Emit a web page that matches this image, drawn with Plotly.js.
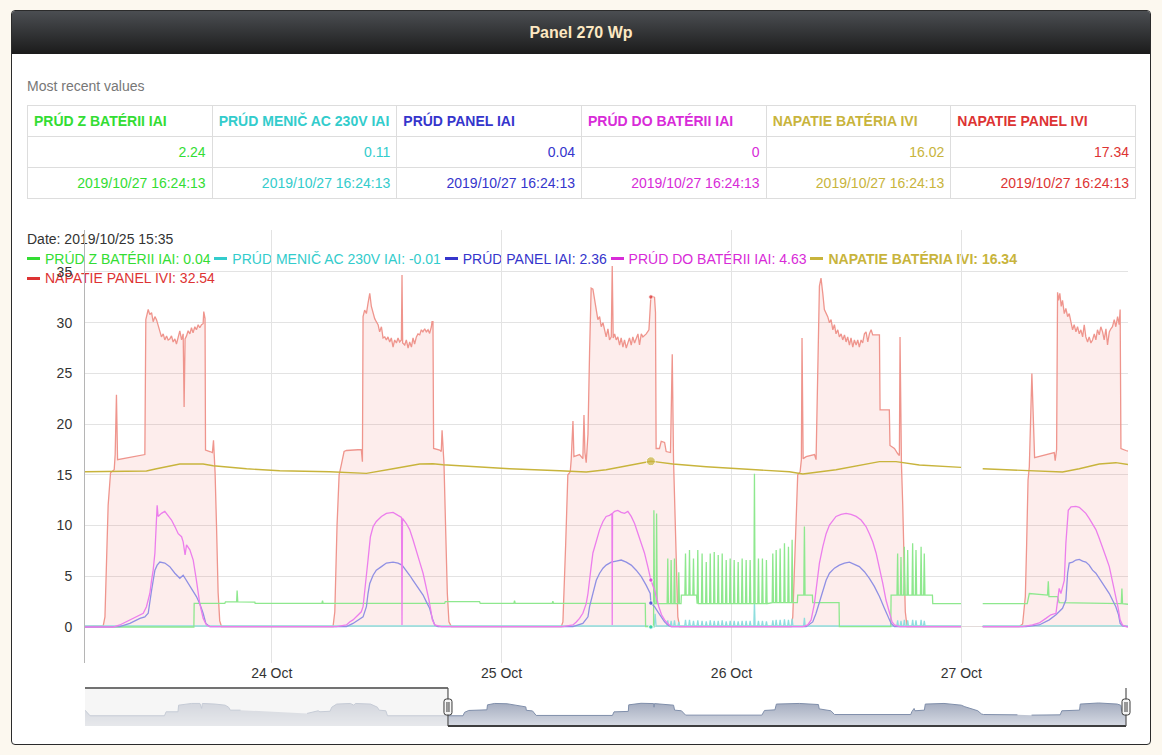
<!DOCTYPE html>
<html><head><meta charset="utf-8">
<script src="https://cdn.plot.ly/plotly-3.0.1.min.js"></script>
<style>
html,body{margin:0;padding:0;}
body{width:1162px;height:755px;background:#fcf8ef;position:relative;overflow:hidden;font-family:'Liberation Sans',Arial,Helvetica,sans-serif;}
#panel{position:absolute;left:11px;top:10px;width:1138px;height:733px;border:1px solid #2b2b2b;border-radius:4px;background:#fff;overflow:hidden;}
#hdr{height:43px;line-height:43px;background:linear-gradient(#4b4e52,#1b1b1b);color:#fde8c2;font-weight:bold;font-size:16px;text-align:center;}
#recent{position:absolute;left:27px;top:78px;font-size:14px;color:#777;}
#tbl{position:absolute;left:27px;top:105px;width:1109px;border-collapse:collapse;table-layout:fixed;font-size:14px;}
#tbl td{border:1px solid #dddddd;height:31px;padding:0 6px;box-sizing:border-box;white-space:nowrap;overflow:hidden;}
#tbl tr.h td{font-weight:bold;text-align:left;}
#tbl tr.v td{text-align:right;}
#legend{position:absolute;left:27px;top:230px;font-size:14px;line-height:19.5px;color:#333;z-index:1;pointer-events:none;white-space:nowrap;}
#legend .dash{display:inline-block;width:13px;height:0;border-top:3px solid;vertical-align:middle;margin-right:5px;position:relative;top:-1px;}
#chart{position:absolute;left:0;top:220px;width:1162px;height:520px;z-index:2;}
</style></head>
<body>
<div id="panel"><div id="hdr">Panel 270 Wp</div></div>
<div id="recent">Most recent values</div>
<table id="tbl"><tbody>
<tr class="h" id="rowH"></tr><tr class="v" id="rowV"></tr><tr class="v" id="rowT"></tr>
</tbody></table>
<div id="legend"></div>
<div id="chart"></div>
<script>
// ---------------- DATA ----------------
const seriesNames = ['PRÚD Z BATÉRII IAI','PRÚD MENIČ AC 230V IAI','PRÚD PANEL IAI','PRÚD DO BATÉRII IAI','NAPATIE BATÉRIA IVI','NAPATIE PANEL IVI'];
const latestValues = ['2.24','0.11','0.04','0','16.02','17.34'];
const latestTime = '2019/10/27 16:24:13';
const highlightLabel = '2019/10/25 15:35';
const highlightTime = '25 15:35';
const highlightValues = [0.04, -0.01, 2.36, 4.63, 16.34, 32.54];
const highlightIndex = 4;
const xTickFormat = '%d %b';

// times are 'DD HH:MM' local time, October 2019
const batDischarge = [ // PRÚD Z BATÉRII IAI
['23 04:30',0],['23 15:52',0],['23 15:54',2.33],['23 19:06',2.33],['23 19:10',2.48],['23 20:20',2.48],['23 20:23',3.6],['23 20:27',2.48],['23 22:14',2.45],['23 22:16',2.33],
['24 05:14',2.33],['24 05:18',2.6],['24 05:22',2.33],['24 18:03',2.33],['24 18:07',2.5],['24 21:42',2.5],['24 21:46',2.33],
['25 01:17',2.33],['25 01:21',2.6],['25 01:25',2.33],['25 05:17',2.33],['25 05:21',2.55],['25 05:25',2.33],['25 15:00',2.33],['25 15:02',0.04],['25 15:35',0.04],['25 15:52',0.04],
['25 15:54',11.5],['25 15:58',2.3],['25 16:08',2.3],['25 16:11',11.2],['25 16:15',2.3],
['25 17:17',2.3],['25 17:21',6.75],['25 17:25',2.3],['25 17:38',2.3],['25 17:42',6.6],['25 17:46',2.3],['25 17:59',2.3],['25 18:03',6.75],['25 18:07',2.3],
['25 18:26',2.3],['25 18:30',5.4],['25 18:34',2.3],['25 18:44',2.3],['25 18:46',3.15],
['25 19:08',3.15],['25 19:12',7.25],['25 19:16',3.15],['25 19:33',3.15],['25 19:37',7.6],['25 19:41',3.15],['25 19:58',3.15],['25 20:02',6.75],['25 20:06',3.15],['25 20:21',3.15],['25 20:23',2.3],
['25 20:25',2.3],['25 20:29',7.6],['25 20:33',2.3],['25 20:52',2.3],['25 20:56',7.25],['25 21:00',2.3],['25 21:18',2.3],['25 21:22',6.4],['25 21:26',2.3],
['25 21:43',2.3],['25 21:47',7.25],['25 21:51',2.3],['25 22:08',2.3],['25 22:12',7.4],['25 22:16',2.3],['25 22:33',2.3],['25 22:37',7.1],['25 22:41',2.3],
['25 22:58',2.3],['25 23:02',7.25],['25 23:06',2.3],['25 23:23',2.3],['25 23:27',6.6],['25 23:31',2.3],['25 23:48',2.3],['25 23:52',6.75],['25 23:56',2.3],
['26 00:13',2.3],['26 00:17',6.6],['26 00:21',2.3],['26 00:38',2.3],['26 00:42',6.4],['26 00:46',2.3],['26 01:03',2.3],['26 01:07',6.75],['26 01:11',2.3],
['26 01:28',2.3],['26 01:32',6.6],['26 01:36',2.3],['26 01:53',2.3],['26 01:57',6.6],['26 02:01',2.3],['26 02:20',2.3],['26 02:24',15.1],['26 02:28',2.3],
['26 02:45',2.3],['26 02:49',6.75],['26 02:53',2.3],['26 03:10',2.3],['26 03:14',6.75],['26 03:18',2.3],['26 03:35',2.3],['26 03:39',6.6],['26 03:43',2.3],
['26 04:15',2.4],['26 04:19',7.25],['26 04:23',2.4],['26 04:36',2.4],['26 04:40',7.6],['26 04:44',2.4],['26 05:01',2.4],['26 05:05',7.75],['26 05:09',2.4],
['26 05:28',2.4],['26 05:32',8.25],['26 05:36',2.4],['26 05:53',2.4],['26 05:57',7.9],['26 06:01',2.4],['26 06:16',2.4],['26 06:20',8.6],['26 06:24',2.4],
['26 06:53',2.4],['26 06:55',3.15],['26 07:33',3.15],['26 07:37',9.9],['26 07:41',3.15],['26 08:27',3.15],['26 08:29',2.4],['26 11:14',2.4],['26 11:16',0.03],
['26 16:38',0.03],['26 16:40',3.15],
['26 17:17',3.15],['26 17:21',7.25],['26 17:25',3.15],['26 17:38',3.15],['26 17:42',6.9],['26 17:46',3.15],['26 17:59',3.15],['26 18:03',7.9],['26 18:07',3.15],
['26 18:20',3.15],['26 18:24',7.6],['26 18:28',3.15],['26 18:51',3.15],['26 18:55',8.25],['26 18:59',3.15],['26 19:12',3.15],['26 19:16',7.6],['26 19:20',3.15],
['26 19:44',3.15],['26 19:48',7.9],['26 19:52',3.15],['26 20:04',3.15],['26 20:08',7.25],['26 20:12',3.15],['26 20:59',3.15],['26 21:01',2.3],['26 23:58',2.3],
['27 01:00',null],['27 02:14',2.3],['27 05:53',2.3],['27 06:06',3.3],['27 08:00',3.15],['27 08:05',4.5],['27 08:09',3.0],['27 09:03',3.0],['27 09:13',2.4],
['27 15:42',2.3],['27 15:46',3.8],['27 15:50',2.3],['27 16:24',2.24]
];

const inverterCur = [ // PRÚD MENIČ AC 230V IAI
['23 04:30',0.1],['25 15:20',0.1],['25 15:35',-0.01],['25 15:56',0.0],['25 16:02',1.3],['25 16:08',0.1],
['25 17:16',0.1],['25 17:21',0.65],['25 17:26',0.1],['25 17:37',0.1],['25 17:42',0.6],['25 17:47',0.1],['25 17:58',0.1],['25 18:03',0.65],['25 18:08',0.1],
['25 18:25',0.1],['25 18:30',0.5],['25 18:35',0.1],['25 19:07',0.1],['25 19:12',0.7],['25 19:17',0.1],['25 19:32',0.1],['25 19:37',0.7],['25 19:42',0.1],
['25 19:57',0.1],['25 20:02',0.6],['25 20:07',0.1],['25 20:24',0.1],['25 20:29',0.65],['25 20:34',0.1],['25 20:51',0.1],['25 20:56',0.6],['25 21:01',0.1],
['25 21:17',0.1],['25 21:22',0.55],['25 21:27',0.1],['25 21:42',0.1],['25 21:47',0.65],['25 21:52',0.1],['25 22:07',0.1],['25 22:12',0.6],['25 22:17',0.1],
['25 22:32',0.1],['25 22:37',0.6],['25 22:42',0.1],['25 22:57',0.1],['25 23:02',0.65],['25 23:07',0.1],['25 23:22',0.1],['25 23:27',0.55],['25 23:32',0.1],
['25 23:47',0.1],['25 23:52',0.6],['25 23:57',0.1],['26 00:12',0.1],['26 00:17',0.6],['26 00:22',0.1],['26 00:37',0.1],['26 00:42',0.55],['26 00:47',0.1],
['26 01:02',0.1],['26 01:07',0.6],['26 01:12',0.1],['26 01:27',0.1],['26 01:32',0.6],['26 01:37',0.1],['26 01:52',0.1],['26 01:57',0.6],['26 02:02',0.1],
['26 02:20',0.1],['26 02:24',2.6],['26 02:28',0.1],['26 02:44',0.1],['26 02:49',0.6],['26 02:54',0.1],['26 03:09',0.1],['26 03:14',0.6],['26 03:19',0.1],
['26 03:34',0.1],['26 03:39',0.55],['26 03:44',0.1],['26 04:14',0.1],['26 04:19',0.65],['26 04:24',0.1],['26 04:35',0.1],['26 04:40',0.7],['26 04:45',0.1],
['26 05:00',0.1],['26 05:05',0.7],['26 05:10',0.1],['26 05:27',0.1],['26 05:32',0.75],['26 05:37',0.1],['26 05:52',0.1],['26 05:57',0.7],['26 06:02',0.1],
['26 06:15',0.1],['26 06:20',0.8],['26 06:25',0.1],['26 07:32',0.1],['26 07:37',0.9],['26 07:42',0.1],
['26 17:16',0.1],['26 17:21',0.65],['26 17:26',0.1],['26 17:37',0.1],['26 17:42',0.6],['26 17:47',0.1],['26 17:58',0.1],['26 18:03',0.7],['26 18:08',0.1],
['26 18:19',0.1],['26 18:24',0.65],['26 18:29',0.1],['26 18:50',0.1],['26 18:55',0.7],['26 19:00',0.1],['26 19:11',0.1],['26 19:16',0.65],['26 19:21',0.1],
['26 19:43',0.1],['26 19:48',0.7],['26 19:53',0.1],['26 20:03',0.1],['26 20:08',0.6],['26 20:13',0.1],['26 23:58',0.1],
['27 01:00',null],['27 02:14',0.1],['27 16:24',0.11]
];

const panelCur = [ // PRÚD PANEL IAI
['23 04:30',0],['23 08:08',0.03],['23 09:11',0.35],['23 10:14',0.85],['23 10:45',1.0],['23 11:06',1.35],['23 11:27',3.6],['23 11:37',4.6],['23 11:48',5.6],['23 12:02',6.1],
['23 12:19',6.4],['23 12:50',6.3],['23 13:21',5.95],['23 13:53',5.3],['23 14:24',4.8],['23 14:45',5.1],['23 15:06',4.6],['23 15:37',3.8],['23 16:08',3.0],['23 16:29',2.3],
['23 16:50',1.35],['23 17:07',0.35],['23 17:32',0.03],
['24 07:48',0.03],['24 08:29',0.35],['24 09:32',1.0],['24 09:53',2.0],['24 10:03',3.3],['24 10:14',4.3],['24 10:35',5.1],['24 10:55',5.6],['24 11:27',5.95],['24 11:58',6.3],
['24 12:40',6.4],['24 13:11',6.3],['24 13:36',6.1],['24 14:03',5.6],['24 14:24',5.1],['24 14:45',4.6],['24 15:06',4.1],['24 15:27',3.6],['24 15:48',3.15],['24 16:08',2.5],
['24 16:29',1.84],['24 16:46',0.85],['24 17:01',0.2],['24 17:21',0.03],
['25 07:27',0.03],['25 08:29',0.35],['25 09:01',1.0],['25 09:11',2.0],['25 09:32',3.3],['25 09:53',4.6],['25 10:14',5.3],['25 10:35',5.8],['25 10:55',6.1],['25 11:27',6.4],
['25 11:58',6.5],['25 12:29',6.6],['25 13:01',6.4],['25 13:32',6.1],['25 14:03',5.6],['25 14:35',4.96],['25 15:06',4.1],['25 15:31',3.3],['25 15:35',2.36],['25 15:58',2.0],
['25 16:19',1.5],['25 16:40',1.0],['25 17:01',0.5],['25 17:21',0.2],['25 17:42',0.03],
['26 07:48',0.03],['26 08:29',0.5],['26 08:50',1.35],['26 09:11',2.5],['26 09:32',3.65],['26 09:53',4.6],['26 10:14',5.3],['26 10:45',5.8],['26 11:16',6.1],['26 11:48',6.3],
['26 12:19',6.4],['26 12:50',6.2],['26 13:21',5.95],['26 13:53',5.45],['26 14:24',4.8],['26 14:55',4.0],['26 15:27',3.0],['26 15:58',1.84],['26 16:19',1.0],['26 16:40',0.35],
['26 17:01',0.03],['26 23:58',0.03],['27 01:00',null],['27 02:14',0.03],
['27 05:45',0.03],['27 07:08',0.2],['27 08:11',0.7],['27 08:53',1.2],['27 09:34',1.84],['27 09:55',2.66],['27 10:06',5.3],['27 10:16',6.3],['27 10:37',6.4],['27 10:58',6.6],
['27 11:19',6.67],['27 11:40',6.5],['27 12:00',6.4],['27 12:21',6.1],['27 12:42',5.6],['27 13:03',5.3],['27 13:24',4.8],['27 13:45',4.3],['27 14:06',3.8],['27 14:27',3.3],
['27 14:47',2.66],['27 15:08',2.0],['27 15:25',1.2],['27 15:35',0.35],['27 15:50',0.1],['27 16:24',0.04]
];

const batCharge = [ // PRÚD DO BATÉRII IAI
['23 04:30',0],['23 07:30',0],['23 08:08',0.2],['23 09:11',0.7],['23 09:53',1.0],['23 10:35',1.35],['23 10:55',2.0],['23 11:06',2.7],['23 11:16',3.3],['23 11:27',4.6],
['23 11:37',5.6],['23 11:48',7.3],['23 11:58',11.0],['23 12:02',12.0],['23 12:08',10.9],['23 12:29',11.2],['23 12:50',11.4],['23 13:11',11.0],['23 13:32',10.55],['23 13:53',9.9],
['23 14:14',9.2],['23 14:35',8.9],['23 14:45',8.4],['23 14:57',7.1],['23 15:06',8.1],['23 15:27',7.6],['23 15:48',6.6],['23 16:08',4.6],['23 16:29',2.3],['23 16:50',0.85],
['23 17:11',0.2],['23 17:32',0.03],
['24 06:45',0.03],['24 07:48',0.2],['24 08:08',0.5],['24 08:29',0.7],['24 09:01',1.2],['24 09:21',1.5],['24 09:32',2.0],['24 09:42',3.3],['24 09:53',4.96],['24 10:03',6.6],
['24 10:18',8.9],['24 10:35',9.9],['24 10:55',10.4],['24 11:27',10.9],['24 11:58',11.2],['24 12:40',11.3],['24 13:11',11.0],['24 13:33',10.8],['24 13:36',0.2],['24 13:39',10.7],
['24 14:03',10.2],['24 14:24',9.6],['24 14:45',8.6],['24 15:06',7.6],['24 15:27',6.4],['24 15:48',5.3],['24 16:08',4.0],['24 16:25',2.66],['24 16:36',1.7],['24 16:46',0.7],
['24 17:01',0.2],['24 17:42',0.03],
['25 06:24',0.03],['25 07:27',0.2],['25 07:48',0.5],['25 08:08',0.85],['25 08:29',1.35],['25 08:50',2.3],['25 09:01',3.3],['25 09:11',4.96],['25 09:21',5.95],['25 09:32',7.3],
['25 09:53',8.6],['25 10:14',9.6],['25 10:35',10.4],['25 10:55',10.9],['25 11:16',11.0],['25 11:31',11.2],['25 11:33',0.2],['25 11:35',11.2],['25 11:48',11.4],['25 12:08',11.5],
['25 12:29',11.3],['25 12:50',11.2],['25 13:11',11.4],['25 13:32',10.9],['25 13:53',10.2],['25 14:14',9.2],['25 14:35',8.25],['25 14:55',7.3],['25 15:16',5.95],['25 15:31',4.96],
['25 15:35',4.63],['25 15:58',3.65],['25 16:08',3.0],['25 16:25',2.0],['25 16:42',1.2],['25 17:01',0.7],['25 17:21',0.35],['25 17:42',0.03],
['26 07:27',0.03],['26 07:58',0.2],['26 08:19',0.7],['26 08:29',1.35],['26 08:40',2.33],['26 08:50',3.65],['26 09:01',4.96],['26 09:11',6.3],['26 09:32',7.9],['26 09:53',9.2],
['26 10:14',10.05],['26 10:35',10.55],['26 10:55',10.9],['26 11:27',11.1],['26 11:58',11.2],['26 12:29',11.1],['26 13:01',10.9],['26 13:32',10.55],['26 14:03',9.9],['26 14:24',9.2],
['26 14:45',8.4],['26 15:06',7.3],['26 15:27',5.95],['26 15:48',4.3],['26 16:08',2.66],['26 16:29',1.35],['26 16:46',0.5],['26 17:01',0.2],['26 17:32',0.03],['26 23:58',0.03],
['27 01:00',null],['27 02:14',0.03],
['27 05:24',0.03],['27 06:26',0.2],['27 07:08',0.4],['27 07:50',0.85],['27 08:21',1.2],['27 08:53',1.35],['27 09:13',3.8],['27 09:24',3.3],['27 09:45',4.6],['27 09:55',8.25],
['27 10:10',11.5],['27 10:27',11.85],['27 10:58',11.9],['27 11:19',11.8],['27 11:40',11.5],['27 12:00',11.2],['27 12:21',10.7],['27 12:42',10.2],['27 13:03',9.6],['27 13:24',8.74],
['27 13:45',7.9],['27 14:06',6.9],['27 14:27',5.95],['27 14:47',4.6],['27 15:08',3.15],['27 15:23',1.84],['27 15:35',0.7],['27 15:50',0.2],['27 16:11',0.03],['27 16:24',0]
];

const batVolt = [ // NAPATIE BATÉRIA IVI
['23 04:30',15.3],['23 10:55',15.38],['23 11:58',15.6],['23 14:24',16.07],['23 16:50',16.07],['23 17:53',15.9],['23 21:22',15.6],['24 00:50',15.4],['24 06:03',15.3],
['24 09:53',15.15],['24 12:40',15.6],['24 15:27',16.07],['24 16:50',16.1],['24 17:53',16.0],['24 21:22',15.8],['25 00:50',15.6],['25 06:03',15.4],['25 08:50',15.28],
['25 10:55',15.5],['25 15:35',16.34],['25 15:58',16.3],['25 17:53',16.07],['25 21:22',15.8],['26 02:14',15.5],['26 06:03',15.3],['26 07:27',15.08],['26 10:55',15.5],
['26 15:27',16.3],['26 17:11',16.3],['26 19:37',15.97],['26 23:58',15.74],['27 01:00',null],['27 02:14',15.6],['27 06:06',15.4],['27 09:34',15.28],['27 11:19',15.6],
['27 13:24',16.07],['27 15:08',16.2],['27 16:11',16.1],['27 16:24',16.02]
];

const panelVolt = [ // NAPATIE PANEL IVI
['23 04:30',0.05],['23 06:24',0.1],['23 06:35',1.0],['23 06:45',7],['23 06:55',12],['23 07:10',15.2],['23 07:33',15.5],['23 07:39',17],['23 07:47',22.9],['23 07:54',16.5],
['23 09:11',16.7],['23 10:41',16.95],['23 10:45',17.0],['23 10:51',30.3],['23 10:55',30.5],['23 11:06',31.3],['23 11:16',30.8],['23 11:27',31.0],['23 11:37',30.1],['23 11:48',30.6],
['23 11:58',30.3],['23 12:08',29.8],['23 12:19',29.2],['23 12:29',28.6],['23 12:40',28.9],['23 12:50',28.3],['23 13:01',28.7],['23 13:11',28.3],['23 13:21',28.4],['23 13:32',28.7],
['23 13:42',28.1],['23 13:53',28.4],['23 14:03',27.9],['23 14:14',28.6],['23 14:24',29.2],['23 14:35',28.3],['23 14:45',28.9],['23 14:51',21.7],['23 14:57',28.4],['23 15:06',28.7],
['23 15:16',29.2],['23 15:27',28.9],['23 15:37',29.5],['23 15:47',29.0],['23 15:58',29.6],['23 16:08',29.3],['23 16:19',29.8],['23 16:29',29.5],['23 16:40',29.8],['23 16:50',29.9],
['23 16:54',31.1],['23 17:02',30.4],['23 17:05',17.45],['23 17:32',17.3],['23 17:48',17.2],['23 17:55',18.4],['23 18:01',17.0],['23 18:05',15.2],['23 18:14',9.9],['23 18:24',3.4],
['23 18:34',0.6],['23 18:45',0.05],
['24 06:24',0.05],['24 06:35',1.5],['24 06:49',10],['24 07:02',15.0],['24 07:16',16.0],['24 07:33',17.3],['24 07:48',17.4],['24 09:21',17.5],['24 09:28',16.3],['24 09:32',30.6],
['24 09:42',31.25],['24 09:53',30.9],['24 10:03',31.9],['24 10:14',32.9],['24 10:24',31.6],['24 10:35',30.9],['24 10:45',30.4],['24 10:55',30.1],['24 11:06',29.8],['24 11:16',29.1],
['24 11:27',29.6],['24 11:37',28.5],['24 11:48',28.6],['24 11:58',28.3],['24 12:08',28.6],['24 12:19',28.1],['24 12:29',28.5],['24 12:40',27.6],['24 12:50',28.3],['24 13:01',28.0],
['24 13:11',28.5],['24 13:21',28.1],['24 13:32',28.3],['24 13:36',34.7],['24 13:40',28.0],['24 13:53',27.8],['24 14:03',28.3],['24 14:14',27.5],['24 14:24',28.1],['24 14:35',27.6],
['24 14:45',28.5],['24 14:55',27.9],['24 15:06',28.6],['24 15:16',28.9],['24 15:27',28.8],['24 15:37',29.3],['24 15:47',29.1],['24 15:58',29.4],['24 16:08',29.1],['24 16:19',29.3],
['24 16:29',28.95],['24 16:40',29.6],['24 16:44',30.1],['24 16:50',30.1],['24 16:54',17.6],['24 17:32',17.45],['24 17:42',17.3],['24 17:47',19.4],['24 17:53',17.1],['24 17:59',16.1],
['24 18:09',9.9],['24 18:20',3.3],['24 18:30',0.5],['24 18:45',0.05],
['25 06:14',0.05],['25 06:24',0.5],['25 06:41',8],['25 06:55',15.0],['25 07:10',15.3],['25 07:16',16.5],['25 07:27',20.3],['25 07:33',16.8],['25 08:08',17.0],['25 08:29',16.6],
['25 08:36',20.9],['25 08:42',17.2],['25 08:50',16.2],['25 09:01',19.0],['25 09:11',27.0],['25 09:21',33.4],['25 09:32',33.3],['25 09:42',32.2],['25 09:53',30.9],['25 10:03',30.3],
['25 10:14',30.6],['25 10:24',29.6],['25 10:35',30.0],['25 10:45',29.3],['25 10:55',28.6],['25 11:06',29.4],['25 11:16',28.3],['25 11:27',28.6],['25 11:33',35.6],['25 11:39',28.5],
['25 11:48',28.9],['25 11:58',28.3],['25 12:08',28.6],['25 12:19',27.8],['25 12:29',28.5],['25 12:40',27.6],['25 12:50',28.3],['25 13:01',27.5],['25 13:11',28.1],['25 13:21',28.5],
['25 13:32',27.8],['25 13:42',28.6],['25 13:53',28.0],['25 14:03',28.4],['25 14:14',28.9],['25 14:24',27.8],['25 14:35',28.9],['25 14:45',28.6],['25 15:06',28.9],['25 15:23',29.3],
['25 15:31',31.5],['25 15:35',32.54],['25 15:43',32.6],['25 15:58',32.5],['25 16:04',31.0],['25 16:08',17.6],['25 16:29',17.6],['25 16:40',18.3],['25 17:01',18.2],['25 17:11',17.3],
['25 17:38',17.2],['25 17:49',26.9],['25 17:57',16.5],['25 18:05',12],['25 18:14',5],['25 18:24',1],['25 18:35',0.05],
['26 06:14',0.05],['26 06:24',1],['26 06:41',8],['26 06:55',15.0],['26 07:10',15.3],['26 07:18',16.5],['26 07:22',28.5],['26 07:29',16.6],['26 07:48',16.8],['26 08:40',17.0],
['26 08:50',16.5],['26 09:01',25],['26 09:11',33.6],['26 09:21',34.4],['26 09:28',33.0],['26 09:32',32.9],['26 09:42',31.3],['26 09:53',30.9],['26 10:03',30.6],['26 10:14',30.0],
['26 10:24',30.3],['26 10:35',29.3],['26 10:45',29.8],['26 10:55',28.9],['26 11:06',29.3],['26 11:16',28.6],['26 11:27',28.9],['26 11:37',28.3],['26 11:48',28.8],['26 11:58',28.1],
['26 12:08',28.6],['26 12:19',27.8],['26 12:29',28.5],['26 12:40',27.6],['26 12:50',28.3],['26 13:01',27.8],['26 13:11',28.3],['26 13:21',27.6],['26 13:32',28.3],['26 13:42',28.0],
['26 13:53',28.9],['26 14:03',29.1],['26 14:14',28.1],['26 14:24',28.9],['26 14:35',29.3],['26 14:45',28.8],['26 15:06',28.8],['26 15:27',28.8],['26 15:31',21.4],['26 15:58',21.4],
['26 16:29',21.4],['26 16:33',17.9],['26 17:01',17.6],['26 17:21',17.1],['26 17:32',16.9],['26 17:36',28.6],['26 17:45',16.0],['26 17:53',12],['26 18:01',6],['26 18:09',1.5],
['26 18:20',0.05],['26 23:58',0.05],['27 01:00',null],['27 02:14',0.05],
['27 05:03',0.05],['27 05:24',0.3],['27 05:41',3],['27 05:49',8],['27 05:58',14.5],['27 06:06',15.8],['27 06:22',25.0],['27 06:39',16.7],['27 07:08',16.8],['27 08:42',17.2],
['27 08:48',16.4],['27 08:57',17.5],['27 09:03',33.0],['27 09:09',32.2],['27 09:17',32.9],['27 09:26',31.6],['27 09:34',32.2],['27 09:45',30.9],['27 09:55',31.4],['27 10:06',30.6],
['27 10:16',30.9],['27 10:27',30.0],['27 10:37',29.3],['27 10:47',29.8],['27 10:58',29.1],['27 11:08',29.6],['27 11:19',28.9],['27 11:29',29.3],['27 11:40',28.6],['27 11:50',29.8],
['27 12:00',28.6],['27 12:11',28.1],['27 12:21',28.6],['27 12:32',28.0],['27 12:42',28.3],['27 12:53',28.9],['27 13:03',28.3],['27 13:13',29.3],['27 13:24',28.8],['27 13:34',29.6],
['27 13:45',29.1],['27 13:55',28.3],['27 14:06',29.4],['27 14:16',27.8],['27 14:27',29.1],['27 14:37',29.4],['27 14:47',29.6],['27 14:58',30.3],['27 15:08',29.6],['27 15:19',30.6],
['27 15:29',29.8],['27 15:35',31.3],['27 15:40',17.6],['27 16:11',17.4],['27 16:24',17.34]
];

// overview (range selector) combined series, full data span
const overview = [
['20 18:12',6.4],['20 19:01',2.8],['21 06:58',2.8],['21 07:14',5.35],['21 09:08',5.35],['21 09:14',9.6],['21 11:19',10.7],['21 12:40',10.7],['21 12:56',7.5],['21 13:03',10.7],
['21 15:06',10.3],['21 16:42',9.6],['21 17:16',8.3],['21 17:32',6.4],['21 19:11',6.4],['21 19:12',null],
['22 05:52',4.3],['22 07:23',5.35],['22 07:39',6.0],['22 07:56',5.35],['22 09:34',5.7],['22 09:50',8.3],['22 10:38',10.3],['22 12:49',10.7],['22 13:22',9.6],['22 13:38',10.7],
['22 16:04',10.3],['22 17:10',8.3],['22 17:26',6.4],['22 18:31',6.0],['22 18:47',2.8],
['23 06:55',2.8],['23 07:10',5.0],['23 07:50',6.2],['23 10:45',6.6],['23 10:51',9.8],['23 12:00',10.7],['23 14:00',10.5],['23 16:00',9.2],['23 17:00',8.5],['23 17:05',6.3],
['23 18:05',5.9],['23 18:40',3.0],
['24 06:55',3.0],['24 07:10',5.3],['24 09:28',5.6],['24 09:32',9.8],['24 11:30',10.8],['24 13:32',10.6],['24 13:36',8.3],['24 13:40',10.6],['24 16:44',9.6],['24 16:54',6.4],
['24 18:00',6.0],['24 18:40',3.2],
['25 06:55',3.2],['25 07:20',6.2],['25 09:01',6.6],['25 09:15',10.3],['25 12:56',10.7],['25 16:00',10.0],['25 16:08',7.2],['25 18:00',6.0],['25 18:35',3.6],
['26 06:50',3.6],['26 07:00',5.35],['26 07:22',7.5],['26 07:30',6.0],['26 09:01',6.4],['26 09:10',10.3],['26 12:10',10.7],['26 14:56',9.6],['26 15:31',8.6],['26 16:29',7.6],
['26 17:36',6.0],['26 18:10',4.0],['26 18:30',3.6],['26 23:58',3.4],['27 01:00',null],
['27 02:14',3.2],['27 05:50',3.4],['27 06:06',6.0],['27 08:57',6.4],['27 09:03',10.3],['27 12:00',11.0],['27 15:00',10.3],['27 15:35',9.5],['27 15:40',6.2],['27 16:24',6.0]
];

// ---------------- STYLE ----------------
const textColors = ['#33dd33','#33cccc','#3535cc','#d82bd8','#c8b43c','#dd3333'];
const lineColors = ['#8ee88e','#8fdede','#9090e4','#ec7eec','#c8b43c','#ef958d'];

// local time -> continuous clock (DST ended 27 Oct 03:00)
function toMs(s){
  const d=+s.slice(0,2), h=+s.slice(3,5), m=+s.slice(6,8);
  let t=Date.UTC(2019,9,d,h,m);
  if(t>=Date.UTC(2019,9,27,3,0)) t+=3600000;
  return t;
}
const X = p => p.map(q=>toMs(q[0]));
const Y = p => p.map(q=>q[1]);

// table + legend
(function(){
  const rH=document.getElementById('rowH'), rV=document.getElementById('rowV'), rT=document.getElementById('rowT');
  seriesNames.forEach((n,i)=>{
    rH.insertAdjacentHTML('beforeend',`<td style="color:${textColors[i]}">${n}</td>`);
    rV.insertAdjacentHTML('beforeend',`<td style="color:${textColors[i]}">${latestValues[i]}</td>`);
    rT.insertAdjacentHTML('beforeend',`<td style="color:${textColors[i]}">${latestTime}</td>`);
  });
  let h='<div>Date: '+highlightLabel+'</div><div>';
  seriesNames.forEach((n,i)=>{
    if(i===5) h+='</div><div>';
    const b=i===highlightIndex?'font-weight:bold;':'';
    h+=`<span style="color:${textColors[i]};${b}"><span class="dash" style="border-top-color:${textColors[i]}"></span>${n}: ${highlightValues[i]}</span> `;
  });
  h+='</div>';
  document.getElementById('legend').innerHTML=h;
})();

const seriesData=[batDischarge,inverterCur,panelCur,batCharge,batVolt,panelVolt];
const drawOrder=[5,1,0,2,3,4];
const traces=[];
drawOrder.forEach(i=>{
  const t={x:X(seriesData[i]),y:Y(seriesData[i]),type:'scatter',mode:'lines',xaxis:'x',yaxis:'y',
    line:{color:lineColors[i],width:i===4?1.4:1.3},hoverinfo:'skip',connectgaps:false};
  if(i===5){t.fill='tozeroy';t.fillcolor='rgba(235,95,85,0.11)';}
  traces.push(t);
});
const hx=toMs(highlightTime);
traces.push({x:highlightValues.map(()=>hx),y:highlightValues,type:'scatter',mode:'markers',xaxis:'x',yaxis:'y',
  marker:{color:textColors,size:highlightValues.map((v,i)=>i===highlightIndex?9:4.5)},cliponaxis:false,hoverinfo:'skip'});

// overview
const MINI_MIN=-3.76, MINI_MAX=20.6;
traces.push({x:X(overview),y:Y(overview).map(v=>v==null?null:v-MINI_MIN),type:'scatter',mode:'lines',xaxis:'x2',yaxis:'y2',
  line:{color:'#808fab',width:1},fill:'tozeroy',fillcolor:'#b9c0cf',
  fillgradient:{type:'vertical',start:0,stop:15,colorscale:[[0,'#d7dbe4'],[1,'#a4acbf']]},hoverinfo:'skip',connectgaps:false});

const fullStart=toMs(overview[0][0]);
const fullEnd=toMs('27 16:24')+13000;
const winStart=toMs('23 04:30');
const miniDom=[0,(1126-85)/1043];
const yMainDom=[1-443/520,1-10/520];
const yMiniDom=[1-506/520,1-468/520];
const frac=t=>miniDom[0]+(t-fullStart)/(fullEnd-fullStart)*(miniDom[1]-miniDom[0]);
const ws=frac(winStart), we=frac(fullEnd);
const yMid=(yMiniDom[0]+yMiniDom[1])/2;
const handlePath='M -4,-5.5 Q -4,-8 -1.5,-8 L 1.5,-8 Q 4,-8 4,-5.5 L 4,5.5 Q 4,8 1.5,8 L -1.5,8 Q -4,8 -4,5.5 Z M -1,-5 L -1,5 M 1,-5 L 1,5';

const shapes=[
 {type:'rect',xref:'paper',yref:'paper',x0:0,x1:ws,y0:yMiniDom[0],y1:yMiniDom[1],fillcolor:'rgba(240,240,240,0.62)',line:{width:0},layer:'above'},
 {type:'line',xref:'paper',yref:'paper',x0:0,x1:ws,y0:yMiniDom[1],y1:yMiniDom[1],line:{color:'#727272',width:2},layer:'above'},
 {type:'line',xref:'paper',yref:'paper',x0:ws,x1:ws,y0:yMiniDom[0],y1:yMiniDom[1],line:{color:'#555',width:1.2},layer:'above'},
 {type:'line',xref:'paper',yref:'paper',x0:ws,x1:we,y0:yMiniDom[0],y1:yMiniDom[0],line:{color:'#3e3e3e',width:2},layer:'above'},
 {type:'line',xref:'paper',yref:'paper',x0:we,x1:we,y0:yMiniDom[0],y1:yMiniDom[1],line:{color:'#555',width:1.2},layer:'above'},
 {type:'path',xref:'paper',yref:'paper',xsizemode:'pixel',ysizemode:'pixel',xanchor:ws,yanchor:yMid,path:handlePath,fillcolor:'#f5f5f5',line:{color:'#3a3a3a',width:1},layer:'above'},
 {type:'path',xref:'paper',yref:'paper',xsizemode:'pixel',ysizemode:'pixel',xanchor:we,yanchor:yMid,path:handlePath,fillcolor:'#f5f5f5',line:{color:'#3a3a3a',width:1},layer:'above'}
];

const layout={
  width:1162,height:520,margin:{l:85,r:34,t:0,b:0},
  paper_bgcolor:'rgba(0,0,0,0)',plot_bgcolor:'rgba(0,0,0,0)',showlegend:false,
  font:{family:'Liberation Sans, Arial, sans-serif',size:14,color:'#333'},
  xaxis:{type:'date',domain:[0,1],anchor:'y',range:[winStart,fullEnd],tickformat:xTickFormat,dtick:86400000,tick0:Date.UTC(2019,9,24),
    showgrid:true,gridcolor:'#e3e3e3',gridwidth:1,zeroline:false,showline:false,ticks:'',tickfont:{size:14,color:'#333'},fixedrange:true},
  yaxis:{domain:yMainDom,anchor:'x',range:[-3.55,39.14],tickvals:[0,5,10,15,20,25,30,35],showgrid:true,gridcolor:'#e3e3e3',zeroline:false,
    showline:true,linecolor:'#b5b5b5',linewidth:1,ticks:'outside',ticklen:9,tickcolor:'rgba(0,0,0,0)',tickfont:{size:14,color:'#333'},fixedrange:true},
  xaxis2:{type:'date',domain:miniDom,anchor:'y2',range:[fullStart,fullEnd],showgrid:false,showticklabels:false,zeroline:false,showline:false,ticks:'',fixedrange:true},
  yaxis2:{domain:yMiniDom,anchor:'x2',range:[0,MINI_MAX-MINI_MIN],showgrid:false,showticklabels:false,zeroline:false,showline:false,ticks:'',fixedrange:true},
  shapes:shapes
};
Plotly.newPlot('chart',traces,layout,{staticPlot:true,displayModeBar:false});
</script>
</body></html>
